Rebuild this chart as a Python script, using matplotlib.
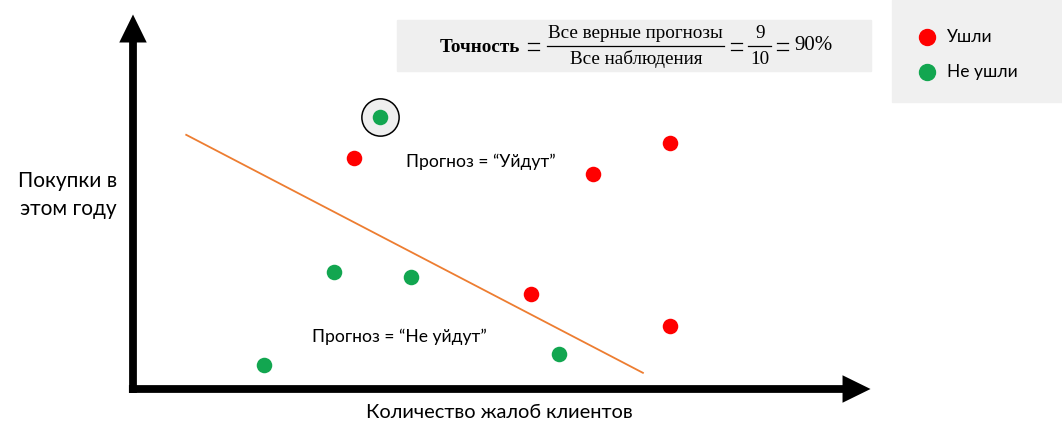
import matplotlib
matplotlib.use("Agg")
import matplotlib.pyplot as plt
from matplotlib.patches import Rectangle

W, H = 1062, 433
SANS = ["Lato", "DejaVu Sans"]
SERIF = ["Liberation Serif", "DejaVu Serif"]

# chart data, axis units 0..10
left_x = [2.99, 6.22, 7.27, 5.39, 7.27]
left_y = [6.14, 5.72, 6.54, 2.53, 1.68]
stay_x = [3.34, 2.72, 3.76, 5.76, 1.77]
stay_y = [7.23, 3.11, 2.98, 0.93, 0.64]
line_x = [0.72, 6.90]
line_y = [6.76, 0.43]
highlight = 0  # the misclassified green point

labels = ["Ушли", "Не ушли"]
colors = ["#ff0000", "#12a650"]
x_label = "Количество жалоб клиентов"
y_label = "Покупки в\nэтом году"
pred_top = "Прогноз = “Уйдут”"
pred_bottom = "Прогноз = “Не уйдут”"

fig = plt.figure(figsize=(W / 100, H / 100), dpi=100)
fig.patch.set_facecolor("white")

def fx(px):
    return px / W

def fy(py):
    return 1 - py / H

# grey boxes
fig.patches.append(Rectangle((fx(892), fy(102)), fx(W - 892), 102 / H,
                             transform=fig.transFigure, color="#f0f0f0", zorder=0))
fig.patches.append(Rectangle((fx(397), fy(71)), fx(871 - 397), 51 / H,
                             transform=fig.transFigure, color="#efefef", zorder=0))

ax = fig.add_axes([fx(133), fy(389), 739 / W, 376 / H])
ax.set_xlim(0, 10)
ax.set_ylim(0, 10)
ax.patch.set_alpha(0)
for s in ax.spines.values():
    s.set_visible(False)
ax.set_xticks([])
ax.set_yticks([])

arrow = dict(arrowstyle="-|>,head_length=0.55,head_width=0.27", lw=5.6, color="black",
             mutation_scale=20, shrinkA=0, shrinkB=0, joinstyle="miter", capstyle="butt")
ax.annotate("", xy=(0.998, 0), xytext=(-0.0055, 0), xycoords="axes fraction",
            arrowprops=arrow, annotation_clip=False)
ax.annotate("", xy=(0, 0.996), xytext=(0, -0.0106), xycoords="axes fraction",
            arrowprops=arrow, annotation_clip=False)

ax.plot(line_x, line_y, color="#ed7d31", lw=1.3, zorder=2)

ax.scatter([stay_x[highlight]], [stay_y[highlight]], s=720, facecolor="#efefef",
           edgecolor="black", linewidth=1.1, zorder=3)
ax.scatter(left_x, left_y, s=125, color=colors[0], zorder=4, linewidths=0)
ax.scatter(stay_x, stay_y, s=125, color=colors[1], zorder=4, linewidths=0)

ax.text(3.69, 6.04, pred_top, fontsize=12.6, family=SANS, va="center", ha="left")
ax.text(2.42, 1.38, pred_bottom, fontsize=12.6, family=SANS, va="center", ha="left")

fig.text(fx(68), fy(195), y_label, fontsize=15, family=SANS, ha="center", va="center",
         linespacing=1.45)
fig.text(fx(499), fy(413), x_label, fontsize=14.4, family=SANS, ha="center", va="center")

# legend
for i, (lab, c) in enumerate(zip(labels, colors)):
    y = fy(37 + 35 * i)
    fig.add_artist(plt.Line2D([fx(927)], [y], marker="o", markersize=11.5, color=c,
                              linestyle="none", transform=fig.transFigure))
    fig.text(fx(947), y, lab, fontsize=12.5, family=SANS, va="center", ha="left")

# accuracy formula, laid out piece by piece
renderer = fig.canvas.get_renderer()
fs = 13.8
mid = fy(46)

def width(t):
    return t.get_window_extent(renderer).width

def equals(x0):
    # wide equals sign like the math font of the reference
    for dy in (-3.2, 3.2):
        fig.add_artist(plt.Line2D([fx(x0), fx(x0 + 11)], [fy(46.5 + dy), fy(46.5 + dy)],
                                  color="black", lw=0.9, transform=fig.transFigure))
    return x0 + 11

cur = 440
t = fig.text(fx(cur), mid, "Точность", fontsize=fs, family=SERIF, weight="bold",
             va="center_baseline", ha="left")
cur += width(t) + 8
cur = equals(cur) + 8
num = fig.text(0, fy(33), "Все верные прогнозы", fontsize=fs, family=SERIF,
               va="center", ha="center")
den = fig.text(0, fy(59), "Все наблюдения", fontsize=fs, family=SERIF,
               va="center", ha="center")
fw = max(width(num), width(den)) + 2
num.set_x(fx(cur + fw / 2))
den.set_x(fx(cur + fw / 2))
fig.add_artist(plt.Line2D([fx(cur), fx(cur + fw)], [mid, mid], color="black", lw=0.9,
                          transform=fig.transFigure))
cur += fw + 7
cur = equals(cur) + 6
n2 = fig.text(0, fy(33), "9", fontsize=fs, family=SERIF, va="center", ha="center")
d2 = fig.text(0, fy(59), "10", fontsize=fs, family=SERIF, va="center", ha="center")
fw2 = width(d2) + 4
n2.set_x(fx(cur + fw2 / 2))
d2.set_x(fx(cur + fw2 / 2))
fig.add_artist(plt.Line2D([fx(cur), fx(cur + fw2)], [mid, mid], color="black", lw=0.9,
                          transform=fig.transFigure))
cur += fw2 + 6
cur = equals(cur) + 6
fig.text(fx(cur), mid, "90%", fontsize=15, family=SERIF, va="center", ha="left")

fig.savefig("out.png", dpi=100)
